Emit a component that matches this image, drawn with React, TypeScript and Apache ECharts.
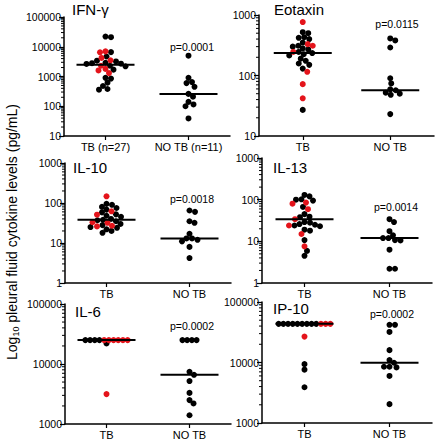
import React, { useEffect, useRef } from 'react';
import * as echarts from 'echarts';

const categories = ['TB', 'NO TB'];
const firstPanelCategories = ['TB (n=27)', 'NO TB (n=11)'];
const titles = ['IFN-γ', 'Eotaxin', 'IL-10', 'IL-13', 'IL-6', 'IP-10'];
const pValues = ['p=0.0001', 'p=0.0115', 'p=0.0018', 'p=0.0014', 'p=0.0002', 'p=0.0002'];
const yMins = [10, 10, 1, 1, 1000, 1000];
const yMaxs = [100000, 1000, 1000, 1000, 100000, 100000];

// IFN-gamma
const ifnTbBlack = [21000, 22000, 6600, 4700, 3400, 3200, 2900, 2800, 2700, 2650, 2300, 2200, 1700, 900, 850, 620, 480, 380, 360];
const ifnTbRed = [7000, 6500, 4200, 3500, 2300, 1800, 1600, 1300];
const ifnNoTb = [5000, 900, 650, 600, 450, 260, 210, 140, 115, 100, 39];
const ifnMedians = [2500, 260];

// Eotaxin
const eotTbBlack = [520, 500, 430, 420, 400, 350, 310, 300, 280, 270, 245, 235, 225, 215, 190, 175, 158, 150, 130, 27];
const eotTbRed = [765, 330, 310, 245, 115, 72, 42];
const eotNoTb = [410, 380, 290, 90, 74, 59, 57, 52, 50, 48, 23];
const eotMedians = [235, 57];

// IL-10
const il10TbBlack = [95, 90, 80, 75, 68, 58, 52, 48, 45, 40, 38, 37, 35, 30, 28, 25, 24, 22, 20, 18];
const il10TbRed = [147, 62, 51, 33, 32, 27, 26];
const il10NoTb = [65, 60, 35, 32, 17, 13, 13, 12, 11, 8, 4.2];
const il10Medians = [38, 13];

// IL-13
const il13TbBlack = [130, 120, 102, 100, 95, 67, 45, 39, 38, 29, 28, 26, 25, 24, 23, 19, 18, 10.7, 5.9, 4.5];
const il13TbRed = [85, 80, 59, 34, 24, 15, 7.6];
const il13NoTb = [34, 29, 17.5, 14, 12, 12, 10.7, 10.5, 6.3, 2.2, 2.2];
const il13Medians = [34, 12];

// IL-6
const il6TbBlack = [25000, 25000, 25000, 25000, 22000];
const il6TbRed = [25000, 25000, 25000, 25000, 25000, 25000, 3150];
const il6NoTb = [25000, 25000, 25000, 25000, 7400, 6600, 5200, 3300, 2500, 2200, 1400];
const il6Medians = [25000, 6600];

// IP-10
const ip10TbBlack = [43500, 43500, 43500, 43500, 43500, 43500, 43500, 43500, 43500, 9400, 7600, 3900];
const ip10TbRed = [43500, 43500, 43500, 26800];
const ip10NoTb = [42000, 42000, 32000, 16000, 11000, 9900, 8500, 8500, 8300, 6000, 2050];
const ip10Medians = [43500, 9900];

const panelsData = [
  { tbBlack: ifnTbBlack, tbRed: ifnTbRed, noTb: ifnNoTb, medians: ifnMedians },
  { tbBlack: eotTbBlack, tbRed: eotTbRed, noTb: eotNoTb, medians: eotMedians },
  { tbBlack: il10TbBlack, tbRed: il10TbRed, noTb: il10NoTb, medians: il10Medians },
  { tbBlack: il13TbBlack, tbRed: il13TbRed, noTb: il13NoTb, medians: il13Medians },
  { tbBlack: il6TbBlack, tbRed: il6TbRed, noTb: il6NoTb, medians: il6Medians },
  { tbBlack: ip10TbBlack, tbRed: ip10TbRed, noTb: ip10NoTb, medians: ip10Medians },
];

// layout (pixels)
const grids = [
  { left: 64, top: 17, width: 166, height: 119 },
  { left: 259, top: 15, width: 175, height: 121 },
  { left: 65, top: 163, width: 166, height: 120 },
  { left: 262, top: 158, width: 170, height: 125 },
  { left: 65, top: 304, width: 166, height: 120 },
  { left: 262, top: 302, width: 170, height: 121 },
];
const titlePos = [[72, 9], [274, 9], [73, 167], [273, 167], [75, 311], [273, 308]];
const pPos = [[192, 47], [397, 24], [192, 199], [396, 207], [192, 326], [392, 314]];

const FONT = '"Liberation Sans", Arial, Helvetica, sans-serif';
const RED = '#e4141b';
const BLACK = '#000000';

type Pt = { v: number; c: string };
type Placed = { x: number; y: number; v: number; c: string; row: boolean };

function swarm(points: Pt[], ymin: number, ymax: number, h: number): Placed[] {
  const d = 5.2;
  const dRow = 3;
  const l0 = Math.log10(ymin);
  const l1 = Math.log10(ymax);
  const toPx = (v: number) => ((Math.log10(v) - l0) / (l1 - l0)) * h;
  const placed: Placed[] = [];
  const counts = new Map<number, number>();
  points.forEach((p) => counts.set(p.v, (counts.get(p.v) || 0) + 1));
  counts.forEach((n, v) => {
    if (n >= 4) {
      const row = points.filter((p) => p.v === v);
      const spacing = Math.min(d, 4.7);
      row.forEach((p, i) =>
        placed.push({ x: (i - (n - 1) / 2) * spacing, y: toPx(v), c: p.c, v, row: n >= 8 })
      );
    }
  });
  const rest = points.filter((p) => (counts.get(p.v) || 0) < 4).sort((a, b) => b.v - a.v);
  for (const p of rest) {
    const y = toPx(p.v);
    for (let k = 0; k < 400; k++) {
      const cands = k === 0 ? [0] : [k * 0.5, -k * 0.5];
      let found: number | null = null;
      for (const x of cands) {
        if (placed.every((q) => Math.hypot(q.x - x, q.y - y) >= (q.row ? dRow : d))) {
          found = x;
          break;
        }
      }
      if (found !== null) {
        placed.push({ x: found, y, c: p.c, v: p.v, row: false });
        break;
      }
    }
  }
  return placed;
}

function minorValues(ymin: number, ymax: number): number[] {
  const out: number[] = [];
  for (let dec = ymin; dec < ymax; dec *= 10) {
    for (let m = 2; m <= 9; m++) out.push(dec * m);
  }
  return out;
}

function buildOption() {
  const grid: any[] = [];
  const xAxis: any[] = [];
  const yAxis: any[] = [];
  const series: any[] = [];
  const graphic: any[] = [];

  panelsData.forEach((pd, i) => {
    const g = grids[i];
    grid.push({ left: g.left, top: g.top, width: g.width, height: g.height, outerBoundsMode: 'none' });
    const labels = i === 0 ? firstPanelCategories : categories;
    xAxis.push({
      type: 'value',
      gridIndex: i,
      min: 0,
      max: 2,
      axisLine: { show: true, lineStyle: { color: BLACK, width: 1.5 } },
      axisTick: { show: true, customValues: [0.5, 1.5], length: 4, lineStyle: { color: BLACK, width: 1.2 } },
      axisLabel: {
        customValues: [0.5, 1.5],
        formatter: (v: number) => (v < 1 ? labels[0] : labels[1]),
        color: BLACK,
        fontSize: 11,
        fontFamily: FONT,
        margin: 5,
      },
      splitLine: { show: false },
    });
    yAxis.push({
      type: 'log',
      logBase: 10,
      gridIndex: i,
      min: yMins[i],
      max: yMaxs[i],
      axisLine: { show: true, lineStyle: { color: BLACK, width: 1.5 } },
      axisTick: { show: true, length: 5, lineStyle: { color: BLACK, width: 1.2 } },
      axisLabel: {
        formatter: (v: number) => String(Math.round(v)),
        color: BLACK,
        fontSize: 10.5,
        fontFamily: FONT,
        margin: 3,
      },
      splitLine: { show: false },
    });

    const pts: Pt[] = [
      ...pd.tbBlack.map((v) => ({ v, c: BLACK })),
      ...pd.tbRed.map((v) => ({ v, c: RED })),
    ];
    const unit = g.width / 2;
    const tbPlaced = swarm(pts, yMins[i], yMaxs[i], g.height);
    const noPlaced = swarm(pd.noTb.map((v) => ({ v, c: BLACK })), yMins[i], yMaxs[i], g.height);
    const blackData = [
      ...tbPlaced.filter((p) => p.c === BLACK).map((p) => [0.5 + p.x / unit, p.v]),
      ...noPlaced.map((p) => [1.5 + p.x / unit, p.v]),
    ];
    const redData = tbPlaced.filter((p) => p.c === RED).map((p) => [0.5 + p.x / unit, p.v]);

    series.push({
      type: 'scatter',
      xAxisIndex: i,
      yAxisIndex: i,
      symbolSize: 6,
      itemStyle: { color: BLACK, opacity: 1 },
      data: blackData,
      z: 3,
    });
    series.push({
      type: 'scatter',
      xAxisIndex: i,
      yAxisIndex: i,
      symbolSize: 6,
      itemStyle: { color: RED, opacity: 1 },
      data: redData,
      z: 4,
    });
    series.push({
      type: 'custom',
      xAxisIndex: i,
      yAxisIndex: i,
      clip: false,
      z: 5,
      data: [[0.5, pd.medians[0]], [1.5, pd.medians[1]]],
      renderItem: (_p: any, api: any) => {
        const c = api.coord([api.value(0), api.value(1)]);
        return {
          type: 'line',
          shape: { x1: c[0] - 29, y1: c[1], x2: c[0] + 29, y2: c[1] },
          style: { stroke: BLACK, lineWidth: 2 },
        };
      },
    });
    series.push({
      type: 'custom',
      xAxisIndex: i,
      yAxisIndex: i,
      clip: false,
      z: 5,
      data: minorValues(yMins[i], yMaxs[i]).map((v) => [0, v]),
      renderItem: (_p: any, api: any) => {
        const c = api.coord([0, api.value(1)]);
        return {
          type: 'line',
          shape: { x1: c[0] - 3, y1: c[1], x2: c[0], y2: c[1] },
          style: { stroke: BLACK, lineWidth: 1 },
        };
      },
    });

    graphic.push({
      type: 'text',
      x: titlePos[i][0],
      y: titlePos[i][1],
      style: { text: titles[i], fontSize: 15, fontFamily: FONT, fill: BLACK, align: 'left', verticalAlign: 'middle' },
    });
    graphic.push({
      type: 'text',
      x: pPos[i][0],
      y: pPos[i][1],
      style: { text: pValues[i], fontSize: 10.5, fontFamily: FONT, fill: BLACK, align: 'center', verticalAlign: 'middle' },
    });
  });

  graphic.push({
    type: 'text',
    x: 12,
    y: 232,
    rotation: Math.PI / 2,
    style: {
      text: '{a|Log}{s|10}{a| pleural fluid cytokine levels (pg/mL)}',
      rich: {
        a: { fontSize: 14, fontFamily: FONT, fill: BLACK, lineHeight: 17, verticalAlign: 'middle' },
        s: { fontSize: 9, fontFamily: FONT, fill: BLACK, lineHeight: 17, verticalAlign: 'bottom', padding: [6, 0, 0, 0] },
      },
      align: 'center',
      verticalAlign: 'middle',
    },
  });

  return {
    animation: false,
    backgroundColor: '#ffffff',
    grid,
    xAxis,
    yAxis,
    series,
    graphic,
  };
}

export default function App() {
  const ref = useRef<HTMLDivElement>(null);
  useEffect(() => {
    document.body.style.margin = '0';
    if (!ref.current) return;
    const chart = echarts.init(ref.current, null, { renderer: 'svg' });
    chart.setOption(buildOption() as any);
    return () => chart.dispose();
  }, []);
  return <div ref={ref} style={{ width: 439, height: 444 }} />;
}
